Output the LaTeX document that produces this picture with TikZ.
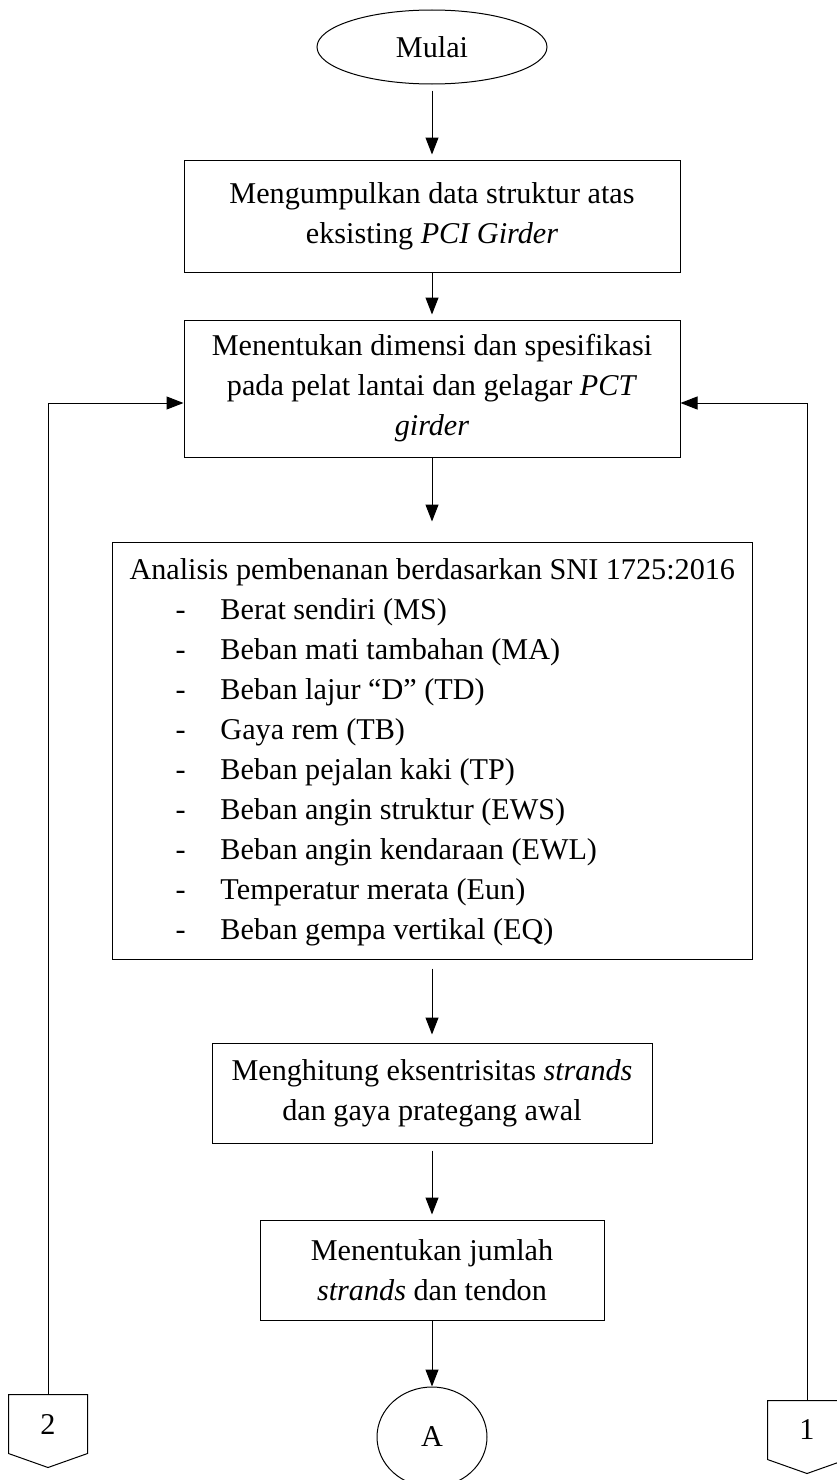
\documentclass[tikz,border=0pt]{standalone}
\usepackage{fontspec}
\setmainfont{Liberation Serif}
\usetikzlibrary{shapes.geometric,arrows.meta}
\begin{document}
\begin{tikzpicture}[x=1pt,y=-1pt, line width=1pt,
  txt/.style={font=\fontsize{30.2}{40}\selectfont},
  box/.style={draw, rectangle, align=center, inner sep=0pt, txt},
  term/.style={draw, ellipse, inner sep=0pt, txt},
  arr/.style={-{Triangle[width=13pt,length=17pt]}},
  offpage/.style={minimum width=78pt, minimum height=58pt, inner sep=0pt, txt}]
\useasboundingbox (0,0) rectangle (836,1480);

\node[term, minimum width=230pt, minimum height=74pt] (start) at (432,47) {Mulai};
\node[box, minimum width=496pt, minimum height=112pt] (b1) at (432,216)
  {Mengumpulkan data struktur atas\\eksisting \textit{PCI Girder}};
\node[box, minimum width=496pt, minimum height=137pt] (b2) at (432,388.5)
  {Menentukan dimensi dan spesifikasi\\pada pelat lantai dan gelagar \textit{PCT}\\\textit{girder}};
\node[draw, rectangle, minimum width=640pt, minimum height=417pt, inner sep=0pt] (b3) at (432,750.5) {};
\node[txt, align=left, anchor=west, inner sep=0pt] (b3t) at (129,752)
  {Analisis pembenanan berdasarkan SNI 1725:2016\\
   \makebox[91pt][l]{\hspace{46pt}-}Berat sendiri (MS)\\
   \makebox[91pt][l]{\hspace{46pt}-}Beban mati tambahan (MA)\\
   \makebox[91pt][l]{\hspace{46pt}-}Beban lajur “D” (TD)\\
   \makebox[91pt][l]{\hspace{46pt}-}Gaya rem (TB)\\
   \makebox[91pt][l]{\hspace{46pt}-}Beban pejalan kaki (TP)\\
   \makebox[91pt][l]{\hspace{46pt}-}Beban angin struktur (EWS)\\
   \makebox[91pt][l]{\hspace{46pt}-}Beban angin kendaraan (EWL)\\
   \makebox[91pt][l]{\hspace{46pt}-}Temperatur merata (Eun)\\
   \makebox[91pt][l]{\hspace{46pt}-}Beban gempa vertikal (EQ)};
\node[box, minimum width=440pt, minimum height=100pt] (b4) at (432,1093)
  {Menghitung eksentrisitas \textit{strands}\\dan gaya prategang awal};
\node[box, minimum width=344pt, minimum height=100pt] (b5) at (432,1270)
  {Menentukan jumlah\\\textit{strands} dan tendon};
\node[term, minimum width=110pt, minimum height=100pt] (endA) at (432,1437) {A};

\node[offpage] (c2) at (48,1424) {2};
\draw (c2.north west) -- (c2.north east) -- (c2.south east) -- ([yshift=-14pt]c2.south) -- (c2.south west) -- cycle;
\node[offpage] (c1) at (807,1430) {1};
\draw (c1.north west) -- (c1.north east) -- (c1.south east) -- ([yshift=-14pt]c1.south) -- (c1.south west) -- cycle;

\draw[arr] ([yshift=-6pt]start.south) -- ([yshift=5pt]b1.north);
\draw[arr] (b1.south) -- ([yshift=5pt]b2.north);
\draw[arr] (b2.south) -- ([yshift=20pt]b3.north);
\draw[arr] ([yshift=-9pt]b3.south) -- ([yshift=8pt]b4.north);
\draw[arr] ([yshift=-7pt]b4.south) -- ([yshift=5pt]b5.north);
\draw[arr] (b5.south) -- (endA.north);

\coordinate (l2) at (48,403);
\coordinate (l1) at (807,403);
\draw[arr] (c2.north) -- (l2) -- (l2 -| b2.west);
\draw[arr] (c1.north) -- (l1) -- (l1 -| b2.east);
\end{tikzpicture}
\end{document}
